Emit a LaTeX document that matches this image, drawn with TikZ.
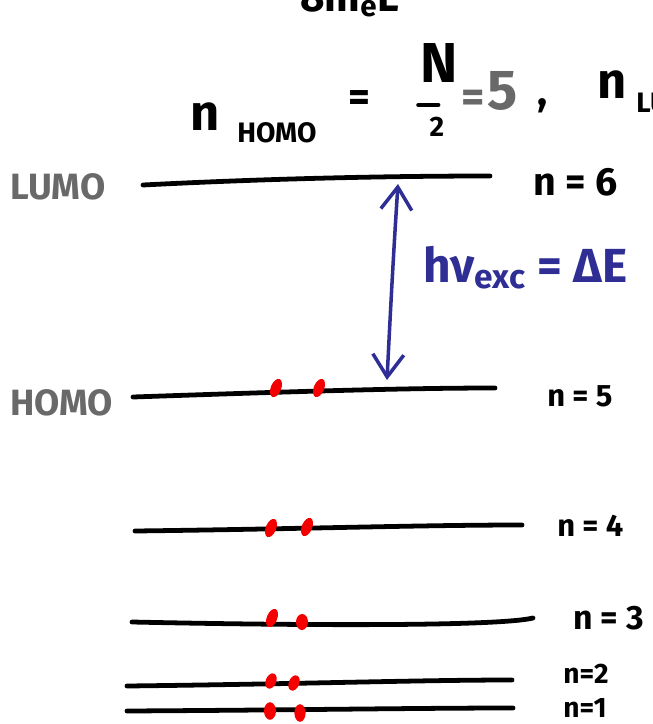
\documentclass[tikz,border=0pt]{standalone}
\usepackage{fontspec}
\setmainfont{Fira Sans}
\usepackage{xcolor}
\usepackage{tikz}
\usetikzlibrary{shapes.geometric, arrows.meta, positioning}

\definecolor{penblue}{RGB}{46,46,148}
\definecolor{pengray}{RGB}{105,105,105}
\definecolor{penred}{RGB}{245,0,0}
\newcommand{\pensize}[1]{\fontsize{#1}{#1}\selectfont\bfseries}

\begin{document}
\begin{tikzpicture}[
    x=0.025cm, y=-0.025cm,
    node distance=0.9cm,
    level/.style={line width=3.4pt, line cap=round},
    elec/.style={ellipse, fill=penred, inner sep=0pt,
                 minimum width=0.48cm, minimum height=0.26cm, rotate=68},
    nlab/.style={anchor=west, inner sep=0pt, font=\pensize{22}},
    orb/.style={anchor=west, inner sep=0pt, text=pengray, font=\pensize{26}},
    eqn/.style={inner sep=0pt, font=\pensize{36}},
    arr/.style={{Straight Barb[length=16pt, width=22pt]}-{Straight Barb[length=16pt, width=22pt]},
                line width=2.5pt, line cap=round, penblue},
]
\clip (0,0) rectangle (652,724);
\useasboundingbox (0,0) rectangle (652,724);

\node[eqn, anchor=base west, font=\pensize{30}] (denom) at (300,11) {8m\textsubscript{e}L};
\node[eqn, anchor=base west] (nh) at (190,130) {n};
\node[eqn, anchor=base west, font=\pensize{20}] (homo) at (237,142) {HOMO};
\node[eqn, font=\pensize{30}] (eq1) at (359,101) {=};
\node[eqn, font=\pensize{40}] (bigN) at (439,63) {N};
\node[eqn, font=\pensize{20}] (two) at (437,127) {2};
\draw[line width=3pt, line cap=round] ([xshift=-9]two.north) ++(-6,-12) coordinate (barw) -- ++(20,0) coordinate (bare);
\node[eqn, font=\pensize{32}, text=pengray] (eq2) at (473,101) {=};
\node[eqn, font=\pensize{40}, text=pengray] (five) at (503,91) {5};
\node[eqn, font=\pensize{30}] (comma) at (543,106) {,};
\node[eqn, anchor=base west] (nl) at (597,98) {n};
\node[eqn, anchor=base west, font=\pensize{20}] (lumo) at (636,112) {LUMO};

\coordinate (l6w) at (143,185); \coordinate (l6e) at (490,176);
\coordinate (l5w) at (133,397); \coordinate (l5e) at (495,388);
\coordinate (l4w) at (135,531); \coordinate (l4e) at (522,525);
\coordinate (l3w) at (132,622); \coordinate (l3e) at (533,618);
\coordinate (l2w) at (127,686); \coordinate (l2e) at (512,680);
\coordinate (l1w) at (127,711); \coordinate (l1e) at (513,708);

\draw[level] (l6w) .. controls (280,178) and (400,176) .. (l6e);
\draw[level] (l5w) .. controls (280,392) and (400,388) .. (l5e);
\draw[level] (l4w) .. controls (300,529) and (420,525) .. (l4e);
\draw[level] (l3w) .. controls (320,626) and (500,626) .. (l3e);
\draw[level] (l2w) .. controls (300,684) and (420,680) .. (l2e);
\draw[level] (l1w) .. controls (300,710) and (420,708) .. (l1e);

\node[orb] (lumolab) at (10,187) {LUMO};
\node[orb] (homolab) at (10,403) {HOMO};

\node[nlab, font=\pensize{28}] (n6) at (533,182) {n = 6};
\node[nlab] (n5) at (547,396) {n = 5};
\node[nlab] (n4) at (557,526) {n = 4};
\node[nlab, font=\pensize{24}] (n3) at (573,618) {n = 3};
\node[nlab, font=\pensize{20}] (n2) at (563,674) {n=2};
\node[nlab, font=\pensize{20}] (n1) at (563,708) {n=1};

\node[elec] (e5a) at (276,388) {};
\node[elec] (e5b) at (319,388) {};
\node[elec] (e4a) at (271,528) {};
\node[elec] (e4b) at (307,527) {};
\node[elec] (e3a) at (272,618) {};
\node[elec, rotate=20, minimum width=0.4cm, minimum height=0.3cm] (e3b) at (302,622) {};
\node[elec, minimum width=0.4cm] (e2a) at (271,681) {};
\node[elec, minimum width=0.4cm] (e2b) at (294,683) {};
\node[elec, rotate=22, minimum width=0.44cm, minimum height=0.3cm] (e1a) at (270,711) {};
\node[elec, rotate=22, minimum width=0.44cm, minimum height=0.28cm] (e1b) at (300,713) {};

\coordinate (a6) at (398,184);
\coordinate (a5) at (387,380);
\draw[arr] (a6) .. controls (393,260) and (390,320) .. (a5);
\node[anchor=west, inner sep=0pt, text=penblue, font=\pensize{34}] (hv) at (423,268) {hν\textsubscript{exc} = ΔE};
\end{tikzpicture}
\end{document}
